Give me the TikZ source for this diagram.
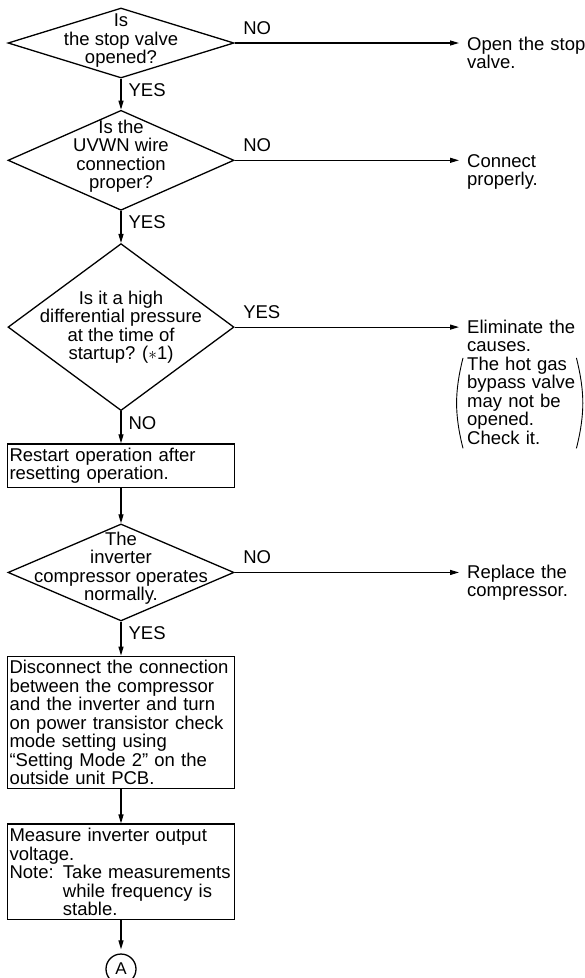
\documentclass[tikz,border=0pt]{standalone}
\usepackage{fontspec}
\setmainfont{Liberation Sans}
\usetikzlibrary{arrows.meta,positioning,shapes.geometric}
\tikzset{
  chart font/.style={font=\fontsize{18.5pt}{18.5pt}\selectfont},
  check box/.style={
    diamond, draw, line width=1.3pt, inner sep=0pt,
    minimum width=226pt
  },
  check text/.style={chart font, align=center, inner sep=0pt},
  task box/.style={
    rectangle, draw, line width=1.3pt, chart font, align=left,
    text width=223pt, inner xsep=2pt, inner ysep=4pt
  },
  action/.style={chart font, align=left, text width=135pt,
    inner xsep=8pt, inner ysep=0pt, anchor=base west},
  answer/.style={chart font, inner sep=0pt},
  answer right/.style={answer, at start, anchor=south west, xshift=8pt, yshift=8pt},
  answer down/.style={answer, at start, anchor=north west, xshift=7pt, yshift=-4.5pt},
  goto/.style={circle, draw, line width=1.3pt, minimum size=30pt, inner sep=0pt,
    font=\fontsize{17pt}{17pt}\selectfont},
  chart arrow/.style={-{Triangle[length=9pt,width=5pt]}, line width=1.2pt}
}

\begin{document}
\begin{tikzpicture}[x=1pt, y=-1pt]
    \useasboundingbox (0,0) rectangle (585,978);
    % checks and steps
    \node[check box, minimum height=70pt] (stopvalve) at (121,43) {};
    \node[check text, yshift=2pt] (stopvalve text) at (stopvalve) {Is\\the stop valve\\opened?};
    \node[check box, minimum height=100pt, below=31pt of stopvalve] (wiring) {};
    \node[check text, yshift=4pt] (wiring text) at (wiring) {Is the\\UVWN wire\\connection\\proper?};
    \node[check box, minimum height=167pt, below=32pt of wiring] (pressure) {};
    \node[check text] (pressure text) at (pressure) {Is it a high\\differential pressure\\at the time of\\startup? ($\ast$1)};
    \node[task box, below=32pt of pressure] (restart) {Restart operation after\\resetting operation.};
    \node[check box, minimum height=97pt, below=35pt of restart] (compressor) {};
    \node[check text, yshift=4pt] (compressor text) at (compressor) {The\\inverter\\compressor operates\\normally.};
    \node[task box, below=34pt of compressor] (disconnect) {Disconnect the connection\\
      between the compressor\\and the inverter and turn\\on power transistor check\\
      mode setting using\\“Setting Mode 2” on the\\outside unit PCB.};
    \node[task box, below=34pt of disconnect] (measure) {Measure inverter output\\voltage.\\
      Note: Take measurements\\\phantom{Note: }while frequency is\\\phantom{Note: }stable.};
    \node[goto, below=33pt of measure] (tonext) {A};
    % remedies
    \node[action] (open) at (459,50) {Open the stop\\valve.};
    \node[action] (connect) at (459,167) {Connect\\properly.};
    \node[action] (eliminate) at (459,333) {Eliminate the\\causes.};
    \node[action, text width=110pt, inner xsep=0pt] (causes) at (467,370)
      {The hot gas\\bypass valve\\may not be\\opened.\\Check it.};
    \node[action] (replace) at (459,578) {Replace the\\compressor.};
    \draw[line width=0.9pt] ([xshift=-4pt,yshift=-1.5pt]causes.north west) to[bend right=14]
      ([xshift=-4pt,yshift=-4pt]causes.south west);
    \draw[line width=0.9pt] ([xshift=-1pt,yshift=-1.5pt]causes.north east) to[bend left=14]
      ([xshift=-1pt,yshift=-4pt]causes.south east);
    % connectors
    \draw[chart arrow] (stopvalve) -- node[answer down] (yes1) {YES} (wiring);
    \draw[chart arrow] (wiring) -- node[answer down] (yes2) {YES} (pressure);
    \draw[chart arrow] (pressure) -- node[answer down] (no3) {NO} (restart);
    \draw[chart arrow] (restart) -- (compressor);
    \draw[chart arrow] (compressor) -- node[answer down] (yes4) {YES} (disconnect);
    \draw[chart arrow] (disconnect) -- (measure);
    \draw[chart arrow, shorten >=4pt] (measure) -- (tonext);
    \draw[chart arrow] (stopvalve.east) -- node[answer right] (no1) {NO} (stopvalve.east -| open.west);
    \draw[chart arrow] (wiring.east) -- node[answer right] (no2) {NO} (wiring.east -| connect.west);
    \draw[chart arrow] (pressure.east) -- node[answer right] (yes3) {YES} (pressure.east -| eliminate.west);
    \draw[chart arrow] (compressor.east) -- node[answer right] (no4) {NO} (compressor.east -| replace.west);
\end{tikzpicture}
\end{document}
